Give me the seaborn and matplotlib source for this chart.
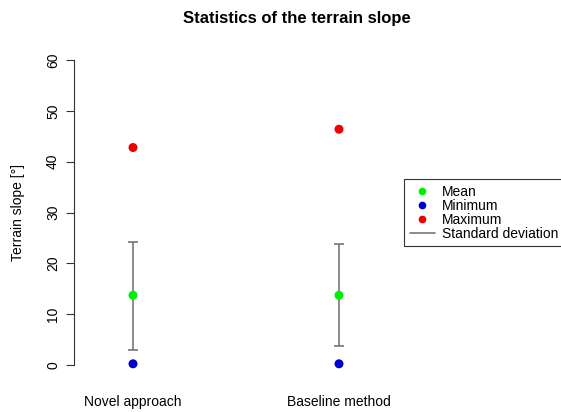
import matplotlib
matplotlib.use("Agg")
import matplotlib.pyplot as plt
import seaborn as sns
import pandas as pd
from matplotlib.lines import Line2D

categories = ["Novel approach", "Baseline method"]
mean_vals = [13.7, 13.7]
min_vals = [0.2, 0.2]
max_vals = [42.8, 46.4]
sd_low = [3.0, 3.7]
sd_high = [24.2, 23.7]
y_ticks = [0, 10, 20, 30, 40, 50, 60]

sns.set_style("white")
plt.rcParams["font.family"] = ["Liberation Sans", "DejaVu Sans"]
plt.rcParams["text.color"] = "black"
plt.rcParams["axes.labelcolor"] = "black"
plt.rcParams["xtick.color"] = "black"
plt.rcParams["ytick.color"] = "black"

W, H = 561, 412
fig = plt.figure(figsize=(W / 100, H / 100), dpi=100)
left, right, top, bottom = 74, 520, 48, 377
ax = fig.add_axes([left / W, 1 - bottom / H, (right - left) / W, (bottom - top) / H])

xpos = [1, 2]
rows = []
for i, c in enumerate(categories):
    rows.append({"x": xpos[i], "y": mean_vals[i], "stat": "Mean"})
    rows.append({"x": xpos[i], "y": min_vals[i], "stat": "Minimum"})
    rows.append({"x": xpos[i], "y": max_vals[i], "stat": "Maximum"})
df = pd.DataFrame(rows)
palette = {"Mean": "#00EE00", "Minimum": "#0000CD", "Maximum": "#EE0000"}

# error bars (standard deviation)
for i in range(len(categories)):
    ax.errorbar([xpos[i]], [mean_vals[i]],
                yerr=[[mean_vals[i] - sd_low[i]], [sd_high[i] - mean_vals[i]]],
                fmt="none", ecolor="#777777", elinewidth=1.2, capsize=3.5, capthick=1.2, zorder=2)

sns.scatterplot(data=df, x="x", y="y", hue="stat", palette=palette, s=42,
                edgecolor="none", legend=False, ax=ax, zorder=3)

ax.set_xlim(1 - 59 / 206, 2 + 181 / 206)
ax.set_ylim(-2.4, 62.4)
ax.set_xticks(xpos)
ax.set_xticklabels(categories, fontsize=10)
ax.tick_params(axis="x", length=0, pad=13)
ax.set_yticks(y_ticks)
ax.set_yticklabels([str(t) for t in y_ticks], fontsize=10, rotation=90, va="center")
ax.tick_params(axis="y", length=6, width=0.8, color="#333333", pad=4, left=True)
for s in ["top", "right", "bottom"]:
    ax.spines[s].set_visible(False)
ax.spines["left"].set_bounds(0, 60)
ax.spines["left"].set_color("#333333")
ax.spines["left"].set_linewidth(0.8)
ax.set_xlabel("")
ax.set_ylabel("Terrain slope [°]", fontsize=10, labelpad=15)
ax.grid(False)

fig.text(297 / W, 1 - 18 / H, "Statistics of the terrain slope", ha="center", va="center",
         fontsize=12, fontweight="bold")

handles = [
    Line2D([], [], marker="o", linestyle="none", color=palette["Mean"], markersize=4.5),
    Line2D([], [], marker="o", linestyle="none", color=palette["Minimum"], markersize=4.5),
    Line2D([], [], marker="o", linestyle="none", color=palette["Maximum"], markersize=4.5),
    Line2D([], [], color="#777777", linewidth=1.2),
]
labels = ["Mean", "Minimum", "Maximum", "Standard deviation"]
leg = fig.legend(handles, labels, loc="upper left", bbox_to_anchor=(404 / W, 1 - 179 / H),
                 fontsize=10, frameon=True, fancybox=False, framealpha=1,
                 edgecolor="#333333", labelspacing=0.0, handlelength=1.8, handletextpad=0.55,
                 borderpad=0.4, borderaxespad=0)
leg.get_frame().set_linewidth(0.8)

fig.savefig("out.png", dpi=100)
